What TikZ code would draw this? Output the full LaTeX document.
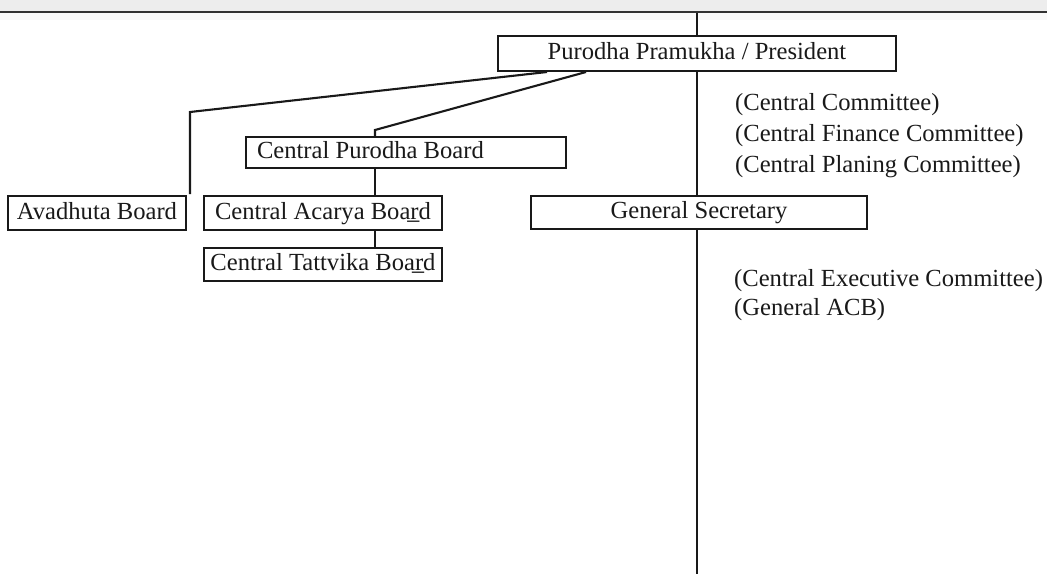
\documentclass[tikz,border=0pt]{standalone}
\usepackage{fontspec}
\setmainfont{Liberation Serif}
\begin{document}
\begin{tikzpicture}[x=1pt,y=-1pt,
  every node/.style={font=\fontsize{24.6}{30}\selectfont, text=black!90},
  boxnode/.style={draw=black!90, line width=2pt, inner sep=0pt, anchor=center,
    text height=17.2pt, text depth=4.9pt},
  conn/.style={draw=black!90, line width=2.1pt},
  note/.style={anchor=base west, inner sep=0pt}]
\useasboundingbox (0,0) rectangle (1047,574);
% top band
\fill[black!7] (0,0) rectangle (1047,11);
\fill[black!2] (0,12.5) rectangle (1047,20);
\draw[black!80, line width=2pt] (0,11.5) -- (1047,11.5);

% boxes
\node[boxnode, minimum width=398pt, minimum height=35pt] (pres) at (697,53.5) {Purodha Pramukha / President};
\node[boxnode, minimum width=320pt, minimum height=31pt] (cpb) at (406,152.5) {\makebox[298pt][l]{Central Purodha Board}};
\node[boxnode, minimum width=178pt, minimum height=34pt] (av) at (97,213) {Avadhuta Board};
\node[boxnode, minimum width=238pt, minimum height=34pt] (acb) at (323,213) {Central Acarya Boa\b{r}d};
\node[boxnode, minimum width=238pt, minimum height=33pt] (ctb) at (323,264.5) {Central Tattvika Boa\b{r}d};
\node[boxnode, minimum width=336pt, minimum height=33pt] (gs) at (699,212.5) {General Secretary};

% notes
\node[note] (n1) at (735,110) {(Central Committee)};
\node[note] (n2) at (735,141) {(Central Finance Committee)};
\node[note] (n3) at (735,172) {(Central Planing Committee)};
\node[note] (n4) at (734,286) {(Central Executive Committee)};
\node[note] (n5) at (734,315) {(General ACB)};

% coordinates
\coordinate (vtop) at (697,12.5);
\coordinate (vbot) at (697,574);
\coordinate (pl) at ([xshift=50pt]pres.south west);
\coordinate (pr) at ([xshift=89pt]pres.south west);
\coordinate (kl) at (190,112);
\coordinate (kle) at (190,194);
\coordinate (kr) at (375,130);

% connectors
\draw[conn] (vtop) -- (vtop |- pres.north);
\draw[conn] (pres.south -| vtop) -- (gs.north -| vtop);
\draw[conn] (gs.south -| vtop) -- (vbot);
\draw[conn] (pl) -- (kl) -- (kle);
\draw[conn] (pr) -- (kr) -- (kr |- cpb.north);
\draw[conn] (cpb.south -| kr) -- (acb.north -| kr);
\draw[conn] (acb.south -| kr) -- (ctb.north -| kr);
\end{tikzpicture}
\end{document}
